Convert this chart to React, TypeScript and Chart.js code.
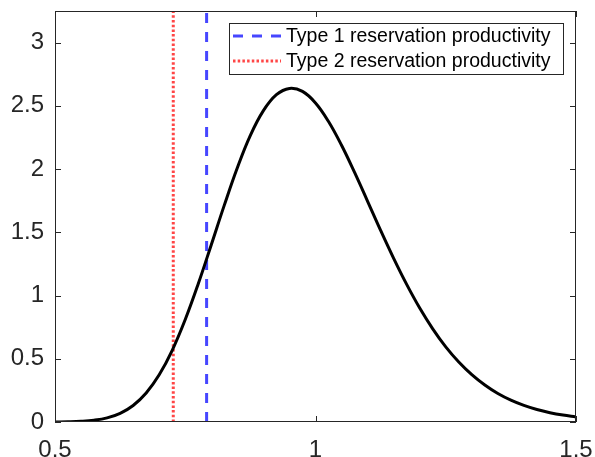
import React, { useEffect, useRef } from "react";
import { Chart, registerables } from "chart.js";

Chart.register(...registerables);

// Density curve
const xValues = [
  0.5, 0.525, 0.55, 0.575, 0.6, 0.625, 0.65, 0.675, 0.7, 0.725, 0.75, 0.775, 0.8, 0.825, 0.85, 0.875, 0.9, 0.925,
  0.95, 0.975, 1.0, 1.025, 1.05, 1.075, 1.1, 1.125, 1.15, 1.175, 1.2, 1.225, 1.25, 1.275, 1.3, 1.325, 1.35, 1.375,
  1.4, 1.425, 1.45, 1.475, 1.5,
];
const densityValues = [
  0.0005, 0.0018, 0.0054, 0.0141, 0.0327, 0.0686, 0.1307, 0.2294, 0.373, 0.567, 0.81, 1.093, 1.402, 1.715, 2.011,
  2.267, 2.462, 2.588, 2.638, 2.614, 2.523, 2.376, 2.188, 1.973, 1.745, 1.515, 1.294, 1.088, 0.901, 0.737, 0.594,
  0.474, 0.374, 0.292, 0.225, 0.1725, 0.131, 0.0986, 0.0737, 0.0547, 0.0403,
];
const type1Reservation = 0.791;
const type2Reservation = 0.727;
const seriesLabels = ["Type 1 reservation productivity", "Type 2 reservation productivity"];
const xTicks = [0.5, 1, 1.5];
const yTicks = [0, 0.5, 1, 1.5, 2, 2.5, 3];
const xRange = [0.5, 1.5];
const yRange = [0, 3.25];

const AXIS_COLOR = "#262626";
const BLUE = "#4646ff";
const RED = "#ff4646";
const FONT = "'Liberation Sans', Arial, sans-serif";

export default function App() {
  const canvasRef = useRef<HTMLCanvasElement | null>(null);

  useEffect(() => {
    document.body.style.margin = "0";
    const canvas = canvasRef.current;
    if (!canvas) return;

    const boxPlugin = {
      id: "matlabBox",
      afterDatasetsDraw(chart: any) {
        const { ctx, chartArea } = chart;
        const { left, right, top, bottom } = chartArea;
        ctx.save();
        ctx.strokeStyle = AXIS_COLOR;
        ctx.lineWidth = 1;
        ctx.strokeRect(left + 0.5, top + 0.5, right - left - 1, bottom - top - 1);
        const tl = 6;
        const xs = chart.scales.x;
        const ys = chart.scales.y;
        ctx.beginPath();
        xTicks.forEach((v) => {
          const px = Math.round(xs.getPixelForValue(v)) + 0.5;
          ctx.moveTo(px, bottom);
          ctx.lineTo(px, bottom - tl);
          ctx.moveTo(px, top);
          ctx.lineTo(px, top + tl);
        });
        yTicks.forEach((v) => {
          const py = Math.round(ys.getPixelForValue(v)) + 0.5;
          ctx.moveTo(left, py);
          ctx.lineTo(left + tl, py);
          ctx.moveTo(right, py);
          ctx.lineTo(right - tl, py);
        });
        ctx.stroke();

        // legend
        const bx = right - 347;
        const by = top + 12;
        const bw = 334;
        const bh = 51;
        ctx.fillStyle = "#ffffff";
        ctx.fillRect(bx, by, bw, bh);
        ctx.strokeStyle = AXIS_COLOR;
        ctx.lineWidth = 1;
        ctx.strokeRect(bx + 0.5, by + 0.5, bw, bh);
        const rows = [
          { label: seriesLabels[0], color: BLUE, dash: [10, 9], y: by + 13 },
          { label: seriesLabels[1], color: RED, dash: [2.5, 2.2], y: by + 38 },
        ];
        rows.forEach((r) => {
          ctx.beginPath();
          ctx.setLineDash(r.dash);
          ctx.strokeStyle = r.color;
          ctx.lineWidth = 3;
          ctx.moveTo(bx + 4, r.y);
          ctx.lineTo(bx + 52, r.y);
          ctx.stroke();
          ctx.setLineDash([]);
          ctx.fillStyle = "#000000";
          ctx.font = "19.5px " + FONT;
          ctx.textBaseline = "middle";
          ctx.textAlign = "left";
          ctx.fillText(r.label, bx + 57, r.y + 1);
        });
        ctx.restore();
      },
    };

    const chart = new Chart(canvas, {
      type: "line",
      data: {
        datasets: [
          {
            label: "density",
            data: xValues.map((x, i) => ({ x, y: densityValues[i] })),
            borderColor: "#000000",
            borderWidth: 3,
            pointRadius: 0,
            tension: 0.4,
            order: 0,
          },
          {
            label: seriesLabels[0],
            data: [
              { x: type1Reservation, y: yRange[0] },
              { x: type1Reservation, y: yRange[1] },
            ],
            borderColor: BLUE,
            borderWidth: 3,
            borderDash: [10, 9],
            pointRadius: 0,
            order: 1,
          },
          {
            label: seriesLabels[1],
            data: [
              { x: type2Reservation, y: yRange[0] },
              { x: type2Reservation, y: yRange[1] },
            ],
            borderColor: RED,
            borderWidth: 3,
            borderDash: [2.5, 2.2],
            pointRadius: 0,
            order: 2,
          },
        ],
      },
      options: {
        animation: false,
        responsive: false,
        maintainAspectRatio: false,
        layout: { padding: { top: 11, right: 19, left: 0, bottom: 0 } },
        plugins: { legend: { display: false }, tooltip: { enabled: false } },
        scales: {
          x: {
            type: "linear",
            min: xRange[0],
            max: xRange[1],
            grid: { display: false, drawTicks: false },
            border: { display: false },
            ticks: {
              color: AXIS_COLOR,
              font: { family: FONT, size: 24 },
              padding: 14,
              maxRotation: 0,
              autoSkip: false,
              callback: (v: any) => String(v),
            },
            afterBuildTicks: (scale: any) => {
              scale.ticks = xTicks.map((v) => ({ value: v }));
            },
            afterFit: (scale: any) => {
              scale.height = 35;
              scale.paddingLeft = 0;
              scale.paddingRight = 0;
              scale.paddingTop = 0;
              scale.paddingBottom = 0;
            },
          },
          y: {
            type: "linear",
            min: yRange[0],
            max: yRange[1],
            grid: { display: false, drawTicks: false },
            border: { display: false },
            ticks: {
              color: AXIS_COLOR,
              font: { family: FONT, size: 24 },
              padding: 11,
              autoSkip: false,
              callback: (v: any) => String(v),
            },
            afterBuildTicks: (scale: any) => {
              scale.ticks = yTicks.map((v) => ({ value: v }));
            },
            afterFit: (scale: any) => {
              scale.width = 55;
              scale.paddingLeft = 0;
              scale.paddingRight = 0;
              scale.paddingTop = 0;
              scale.paddingBottom = 0;
            },
          },
        },
      },
      plugins: [boxPlugin],
    });

    return () => chart.destroy();
  }, []);

  return (
    <div style={{ width: 595, height: 457, background: "#ffffff" }}>
      <canvas ref={canvasRef} width={595} height={457} style={{ display: "block" }} />
    </div>
  );
}
